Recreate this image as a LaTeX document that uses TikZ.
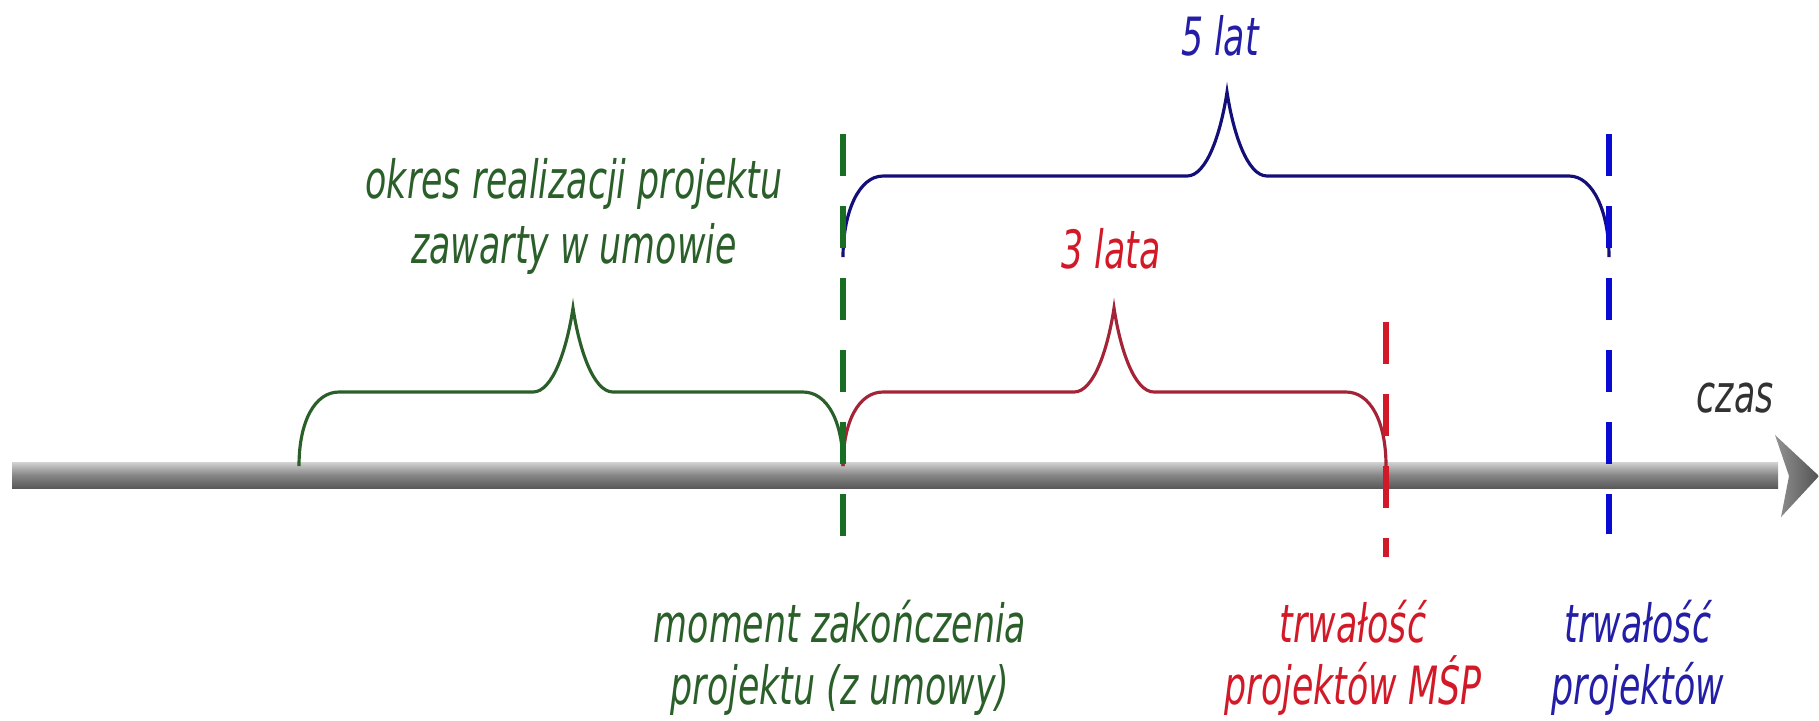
\documentclass[tikz,border=0pt]{standalone}
\usepackage{fontspec}
\setmainfont{DejaVu Sans}[FakeStretch=0.66]
\usetikzlibrary{calc}
\definecolor{spangreen}{RGB}{42,95,42}
\definecolor{dashgreen}{RGB}{25,110,35}
\definecolor{spanred}{RGB}{210,25,40}
\definecolor{bracered}{RGB}{165,35,55}
\definecolor{spanblue}{RGB}{35,30,165}
\definecolor{braceblue}{RGB}{20,15,120}
\definecolor{dashblue}{RGB}{10,10,210}
\definecolor{timegray}{RGB}{50,50,50}

% curly brace: #2 left end, #3 right end, #4 tip
\newcommand{\spanbrace}[4][]{%
  \draw[#1] (#2) .. controls +(0,-45) and +(-24,0) .. ($(#2|-#4)+(40,84)$)
    -- ($(#4)+(-40,84)$) .. controls +(20,0) and +(-6,40) .. (#4)
    .. controls +(6,40) and +(-20,0) .. ($(#4)+(40,84)$)
    -- ($(#3|-#4)+(-40,84)$) .. controls +(24,0) and +(0,-45) .. (#3);}

\begin{document}
\begin{tikzpicture}[x=0.01cm,y=-0.01cm,
 lbl/.style={inner sep=0pt,anchor=base,align=center,
   font=\fontsize{15}{17.6}\selectfont\itshape},
 bracestyle/.style={line width=0.9pt,line join=miter},
 marker/.style={line width=1.9pt,dash pattern=on 0.42cm off 0.30cm}]
 \useasboundingbox (0,0) rectangle (1819,720);
 % time axis
 \coordinate (t0) at (12,475);
 \coordinate (t1) at (1819,476);
 \shade[top color=gray!35,bottom color=gray!70!black,middle color=gray!95]
   ($(t0)+(0,-13)$) rectangle (1778,488);
 \shade[left color=gray!85,right color=gray!65!black]
   (1775,435) -- (t1) -- (1781,517) -- (1789,476) -- cycle;
 \node[lbl,text=timegray] (czas) at (1735,412) {czas};
 % braces
 \coordinate (gl) at (299,466);
 \coordinate (mid) at (843,466);
 \coordinate (gtip) at (573,308);
 \coordinate (rr) at (1386,466);
 \coordinate (rtip) at (1114,308);
 \coordinate (bl) at (843,257);
 \coordinate (br) at (1609,257);
 \coordinate (btip) at (1227,92);
 \spanbrace[bracestyle,spangreen]{gl}{mid}{gtip}
 \spanbrace[bracestyle,bracered]{mid}{rr}{rtip}
 \spanbrace[bracestyle,braceblue]{bl}{br}{btip}
 % dashed markers
 \coordinate (gtop) at (843,134);
 \coordinate (gbot) at (843,536);
 \coordinate (rtop) at (1386,322);
 \coordinate (rbot) at (1386,557);
 \coordinate (btop) at (1609,134);
 \coordinate (bbot) at (1609,534);
 \draw[marker,dashgreen] (gtop) -- (gbot);
 \draw[marker,spanred] (rtop) -- (rbot);
 \draw[marker,dashblue] (btop) -- (bbot);
 % labels (base = last line)
 \node[lbl,text=spanblue] (piec) at (1220,55) {5 lat};
 \node[lbl,text=spangreen,font=\fontsize{15}{18.4}\selectfont\itshape]
   (okres) at (574,263) {okres realizacji projektu\\zawarty w umowie};
 \node[lbl,text=spanred] (trzy) at (1111,268) {3 lata};
 \node[lbl,text=spangreen] (koniec) at (840,704)
   {moment zakończenia\\projektu (z umowy)};
 \node[lbl,text=spanred] (msp) at (1353,704) {trwałość\\projektów MŚP};
 \node[lbl,text=spanblue] (trwal) at (1638,704) {trwałość\\projektów};
\end{tikzpicture}
\end{document}
